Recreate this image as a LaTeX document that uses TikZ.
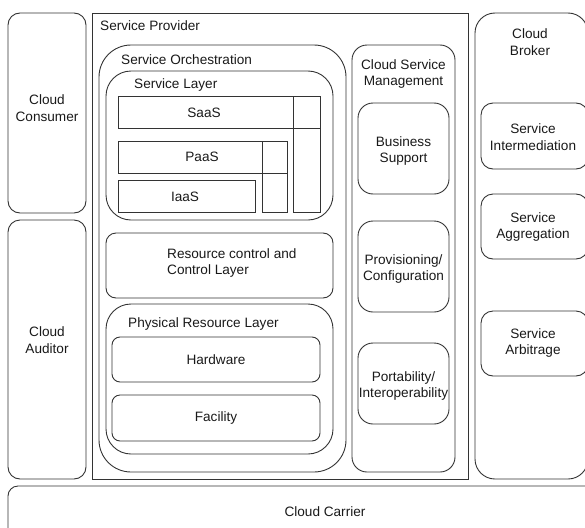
\documentclass[tikz,border=0pt]{standalone}
\usepackage{fontspec}
\setmainfont{Liberation Sans}
\usetikzlibrary{fit}
\begin{document}
\begin{tikzpicture}[x=1pt,y=-1pt,
  box/.style={draw=black!80, line width=0.9pt, inner sep=0pt, outer sep=0pt},
  lbl/.style={font=\fontsize{13.6}{16.5}\selectfont, inner sep=0pt, align=center, text=black!90},
  lbll/.style={lbl, anchor=west, align=left}]
\useasboundingbox (0,0) rectangle (585,527);
\clip (0,0) rectangle (585,527);
% left column
\node[box, rounded corners=12pt, fit={(8,13) (86,213)}] (consumer) {};
\node[lbl] (consumerT) at (47,108) {Cloud\\Consumer};
\node[box, rounded corners=12pt, fit={(8,220) (86,479)}] (auditor) {};
\node[lbl] (auditorT) at (47,340) {Cloud\\Auditor};
% provider
\node[box, fit={(92,13) (468,479)}] (provider) {};
\node[lbll] (providerT) at (100,26) {Service Provider};
% orchestration
\node[box, rounded corners=32pt, fit={(99,45) (346,472)}] (orch) {};
\node[lbll] (orchT) at (121,60) {Service Orchestration};
% service layer
\node[box, rounded corners=25pt, fit={(106,71) (333,220)}] (slayer) {};
\node[lbll] (slayerT) at (134,85) {Service Layer};
\node[box, fit={(118,96) (320,128)}] (saas) {};
\node[box, fit={(293,96) (320,212)}] (saascol) {};
\node[lbl] (saasT) at (204,113) {SaaS};
\node[box, fit={(118,141) (287,173)}] (paas) {};
\node[box, fit={(262,141) (287,212)}] (paascol) {};
\node[lbl] (paasT) at (202,157) {PaaS};
\node[box, fit={(118,180) (255,212)}] (iaas) {};
\node[lbl] (iaasT) at (185,197) {IaaS};
% resource control
\node[box, rounded corners=10pt, fit={(106,233) (333,298)}] (resctl) {};
\node[lbll] (resctlT) at (167,263) {Resource control and\\Control Layer};
% physical
\node[box, rounded corners=25pt, fit={(106,304) (333,454)}] (phys) {};
\node[lbll] (physT) at (128,324) {Physical Resource Layer};
\node[box, rounded corners=8pt, fit={(112,337) (320,382)}] (hw) {};
\node[lbl] (hwT) at (216,360) {Hardware};
\node[box, rounded corners=8pt, fit={(112,395) (320,441)}] (fac) {};
\node[lbl] (facT) at (216,418) {Facility};
% cloud service management
\node[box, rounded corners=15pt, fit={(352,45) (455,472)}] (csm) {};
\node[lbl] (csmT) at (403.5,74) {Cloud Service\\Management};
\node[box, rounded corners=15pt, fit={(358,103) (449,194)}] (bs) {};
\node[lbl] (bsT) at (403.5,151) {Business\\Support};
\node[box, rounded corners=15pt, fit={(358,221) (449,312)}] (prov) {};
\node[lbl] (provT) at (403.5,269) {Provisioning/\\Configuration};
\node[box, rounded corners=15pt, fit={(358,343) (449,424)}] (port) {};
\node[lbl] (portT) at (403.5,386) {Portability/\\Interoperability};
% broker
\node[box, rounded corners=20pt, fit={(475,13) (588,479)}] (broker) {};
\node[lbl] (brokerT) at (530,42) {Cloud\\Broker};
\node[box, rounded corners=12pt, fit={(481,103) (588,169)}] (inter) {};
\node[lbl] (interT) at (533,137) {Service\\Intermediation};
\node[box, rounded corners=12pt, fit={(481,194) (588,259)}] (aggr) {};
\node[lbl] (aggrT) at (533,227) {Service\\Aggregation};
\node[box, rounded corners=12pt, fit={(481,311) (588,376)}] (arb) {};
\node[lbl] (arbT) at (533,343) {Service\\Arbitrage};
% carrier
\node[box, rounded corners=10pt, fit={(8,486) (600,545)}] (carrier) {};
\node[lbl] (carrierT) at (325,512) {Cloud Carrier};
\end{tikzpicture}
\end{document}
